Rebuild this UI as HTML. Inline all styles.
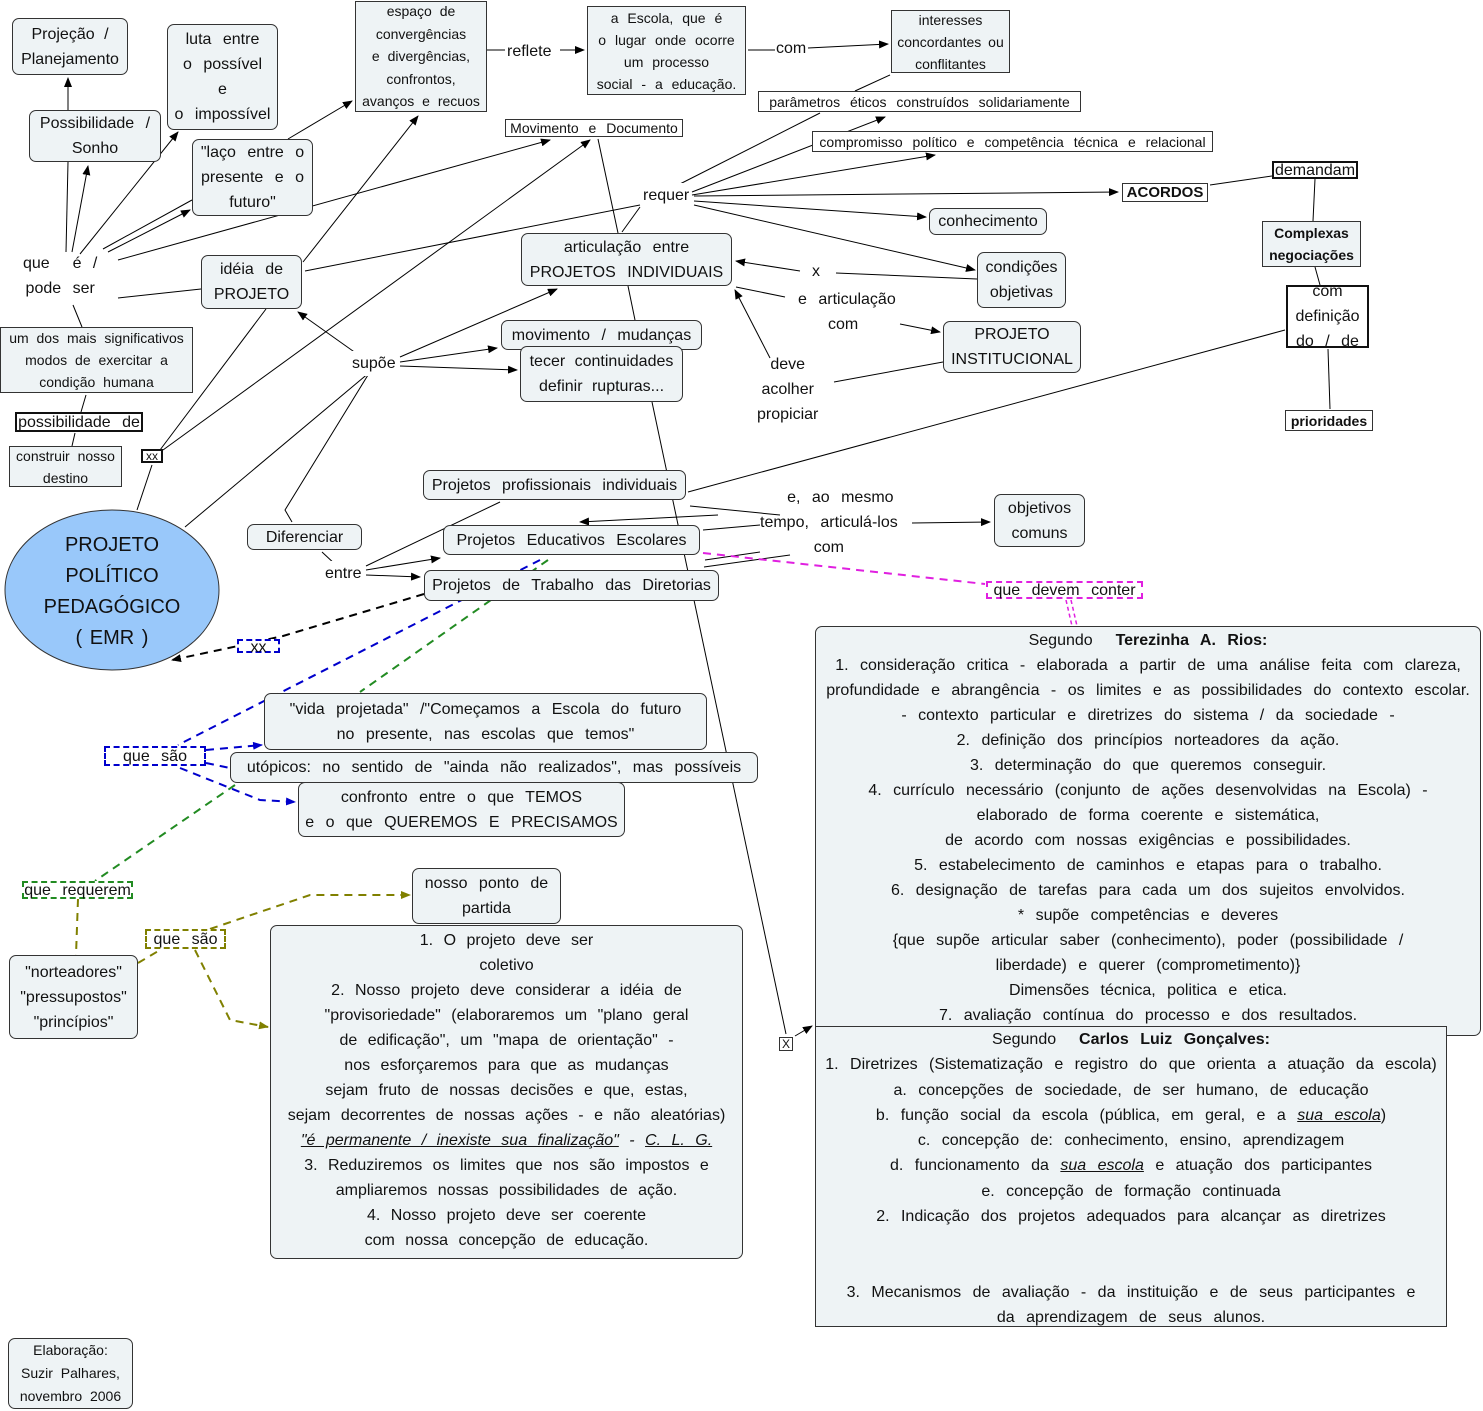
<!DOCTYPE html>
<html><head><meta charset="utf-8"><style>
body{margin:0;width:1483px;height:1411px;position:relative;background:#fff;font-family:"Liberation Sans",sans-serif;color:#111;overflow:hidden}
.b{position:absolute;box-sizing:border-box;border:1px solid #333;background:#eef3f5;border-radius:7px;display:flex;align-items:center;justify-content:center;text-align:center;font-size:16px;line-height:25px;word-spacing:7px;white-space:nowrap}
.blk{display:block}
.s{border-radius:0}
.sm{font-size:14px;line-height:22px;word-spacing:6px}
.t{position:absolute;font-size:16px;line-height:25px;word-spacing:7px;white-space:nowrap;text-align:center}
.w{background:#fff}
.k{border:2px solid #111}
svg{position:absolute;left:0;top:0}
</style></head><body>
<svg width="1483" height="1411">
<defs>
<marker id="a" markerWidth="10" markerHeight="8" refX="9" refY="4" orient="auto" markerUnits="userSpaceOnUse"><path d="M0,0L10,4L0,8z" fill="#000"/></marker>
<marker id="ab" markerWidth="10" markerHeight="8" refX="9" refY="4" orient="auto" markerUnits="userSpaceOnUse"><path d="M0,0L10,4L0,8z" fill="#00c"/></marker>
<marker id="ao" markerWidth="10" markerHeight="8" refX="9" refY="4" orient="auto" markerUnits="userSpaceOnUse"><path d="M0,0L10,4L0,8z" fill="#808000"/></marker>
</defs>
<g stroke="#000" stroke-width="1" fill="none">
<path d="M68,110L68,78" marker-end="url(#a)"/>
<path d="M66,252L68,162"/>
<path d="M72,252L88,166" marker-end="url(#a)"/>
<path d="M80,254L178,132" marker-end="url(#a)"/>
<path d="M103,249L192,200"/>
<path d="M108,252L190,210" marker-end="url(#a)"/>
<path d="M118,260L550,140" marker-end="url(#a)"/>
<path d="M288,139L352,101" marker-end="url(#a)"/>
<path d="M118,298L201,289"/>
<path d="M73,305L82,327"/>
<path d="M86,395L81,412"/><path d="M75,433L72,446"/>
<path d="M303,262L418,116" marker-end="url(#a)"/>
<path d="M305,271L640,205"/>
<path d="M266,309L160,450"/>
<path d="M163,450L590,140" marker-end="url(#a)"/>
<path d="M137,510L152,465"/>
<path d="M185,527L370,372"/>
<path d="M360,356L298,312" marker-end="url(#a)"/>
<path d="M400,357L557,289" marker-end="url(#a)"/>
<path d="M400,362L497,348" marker-end="url(#a)"/>
<path d="M400,366L517,370" marker-end="url(#a)"/>
<path d="M368,375L285,510L292,522"/>
<path d="M322,552L337,566"/>
<path d="M366,566L500,502"/>
<path d="M366,570L440,558" marker-end="url(#a)"/>
<path d="M366,575L420,577" marker-end="url(#a)"/>
<path d="M487,50L505,50"/><path d="M560,50L584,50" marker-end="url(#a)"/>
<path d="M748,50L775,50"/><path d="M808,48L888,44" marker-end="url(#a)"/>
<path d="M890,75L855,91"/>
<path d="M672,188L820,113"/>
<path d="M692,192L885,117" marker-end="url(#a)"/>
<path d="M692,195L935,155" marker-end="url(#a)"/>
<path d="M694,196L1118,192" marker-end="url(#a)"/>
<path d="M1210,185L1272,176"/>
<path d="M1315,179L1313,221"/>
<path d="M1315,267L1320,285"/>
<path d="M1328,349L1330,409"/>
<path d="M694,201L926,217" marker-end="url(#a)"/>
<path d="M694,205L975,270" marker-end="url(#a)"/>
<path d="M598,139L618,233"/>
<path d="M622,232L640,207"/>
<path d="M800,271L736,261" marker-end="url(#a)"/>
<path d="M836,273L977,279"/>
<path d="M736,287L785,297"/>
<path d="M900,324L940,332" marker-end="url(#a)"/>
<path d="M770,358L735,290" marker-end="url(#a)"/>
<path d="M834,382L943,362"/>
<path d="M628,286L635,320"/>
<path d="M652,402L786,1034"/>
<path d="M795,1036L812,1026" marker-end="url(#a)"/>
<path d="M688,492L1285,330"/>
<path d="M690,506L780,515"/>
<path d="M718,515L580,522" marker-end="url(#a)"/>
<path d="M703,530L760,525"/>
<path d="M912,523L990,522" marker-end="url(#a)"/>
<path d="M760,552L705,560"/>
<path d="M790,555L704,567"/>
</g>
<g fill="none" stroke-width="2" stroke-dasharray="8,6">
<path d="M424,594L283,636L238,646L172,660" stroke="#000" marker-end="url(#a)"/>
<path d="M540,560L178,745" stroke="#00c"/>
<path d="M206,750L262,745" stroke="#00c" marker-end="url(#ab)"/>
<path d="M206,763L230,768" stroke="#00c"/>
<path d="M180,768L260,800L295,802" stroke="#00c" marker-end="url(#ab)"/>
<path d="M548,560L360,692" stroke="#228b22"/>
<path d="M235,785L95,881" stroke="#228b22"/>
<path d="M78,899L76,955" stroke="#808000"/>
<path d="M138,963L160,950" stroke="#808000"/>
<path d="M210,929L310,895L410,895" stroke="#808000" marker-end="url(#ao)"/>
<path d="M195,950L230,1020L268,1027" stroke="#808000" marker-end="url(#ao)"/>
<path d="M703,553L985,584" stroke="#e020e0"/>
<path d="M1066,600L1072,626M1071,600L1077,626" stroke="#e020e0" stroke-width="1.5" stroke-dasharray="4,3"/>
</g>
<ellipse cx="112" cy="590" rx="107" ry="80" fill="#99c8fa" stroke="#333"/>
</svg>

<div class="b" style="left:12px;top:18px;width:116px;height:57px;word-spacing:5px">Projeção /<br>Planejamento</div>
<div class="b" style="left:167px;top:24px;width:111px;height:106px">luta entre<br>o possível<br>e<br>o impossível</div>
<div class="b s sm" style="left:355px;top:1px;width:132px;height:111px;line-height:22.5px;word-spacing:4px">espaço de<br>convergências<br>e divergências,<br>confrontos,<br>avanços e recuos</div>
<div class="t w" style="left:507px;top:39px">reflete</div>
<div class="b s sm" style="left:587px;top:6px;width:159px;height:89px;word-spacing:5px">a Escola, que é<br>o lugar onde ocorre<br>um processo<br>social - a educação.</div>
<div class="t w" style="left:776px;top:36px">com</div>
<div class="b s sm" style="left:891px;top:10px;width:119px;height:63px;word-spacing:3px">interesses<br>concordantes ou<br>conflitantes</div>
<div class="b s sm w" style="left:758px;top:91px;width:323px;height:21px">parâmetros éticos construídos solidariamente</div>
<div class="b s sm w" style="left:505px;top:119px;width:178px;height:18px">Movimento e Documento</div>
<div class="b s sm w" style="left:812px;top:131px;width:401px;height:21px">compromisso político e competência técnica e relacional</div>
<div class="b" style="left:29px;top:110px;width:132px;height:52px">Possibilidade /<br>Sonho</div>
<div class="b" style="left:192px;top:139px;width:121px;height:77px">"laço entre o<br>presente e o<br>futuro"</div>
<div class="t w" style="left:643px;top:183px">requer</div>
<div class="b s w" style="left:1122px;top:183px;width:86px;height:19px;font-weight:bold;font-size:15px">ACORDOS</div>
<div class="b s k w" style="left:1272px;top:161px;width:86px;height:18px;border-radius:0">demandam</div>
<div class="b s sm" style="left:1262px;top:221px;width:99px;height:46px;font-weight:bold;word-spacing:2px">Complexas<br>negociações</div>
<div class="b" style="left:929px;top:208px;width:118px;height:27px">conhecimento</div>
<div class="b" style="left:521px;top:233px;width:211px;height:53px">articulação entre<br>PROJETOS INDIVIDUAIS</div>
<div class="b" style="left:977px;top:252px;width:89px;height:56px">condições<br>objetivas</div>
<div class="b k w" style="left:1286px;top:285px;width:83px;height:63px;border-radius:0;line-height:25px">com<br>definição<br>do / de</div>
<div class="t" style="left:812px;top:259px">x</div>
<div class="t" style="left:798px;top:287px">e articulação</div>
<div class="t" style="left:828px;top:312px">com</div>
<div class="b" style="left:943px;top:321px;width:138px;height:52px">PROJETO<br>INSTITUCIONAL</div>
<div class="t" style="left:757px;top:352px">deve<br>acolher<br>propiciar</div>
<div class="b s sm w" style="left:1285px;top:410px;width:88px;height:21px;font-weight:bold">prioridades</div>
<div class="b" style="left:201px;top:255px;width:101px;height:54px">idéia de<br>PROJETO</div>
<div class="t" style="left:23px;top:251px">que&nbsp; é /<br>pode ser</div>
<div class="b s sm" style="left:0px;top:327px;width:193px;height:66px;word-spacing:4px">um dos mais significativos<br>modos de exercitar a<br>condição humana</div>
<div class="b s k w" style="left:15px;top:412px;width:128px;height:20px;border-radius:0">possibilidade de</div>
<div class="b s sm" style="left:9px;top:446px;width:113px;height:41px;word-spacing:4px">construir nosso<br>destino</div>
<div class="b s k w" style="left:141px;top:449px;width:22px;height:14px;line-height:12px;border-radius:0;font-size:12px">xx</div>
<div class="b" style="left:501px;top:320px;width:201px;height:30px">movimento / mudanças</div>
<div class="b" style="left:520px;top:346px;width:163px;height:56px;word-spacing:5px">tecer continuidades<br>definir rupturas...</div>
<div class="t w" style="left:352px;top:351px">supõe</div>
<div class="b" style="left:423px;top:470px;width:263px;height:30px">Projetos profissionais individuais</div>
<div class="t" style="left:760px;top:485px">&nbsp;&nbsp;e, ao mesmo<br>tempo, articulá-los<br>com</div>
<div class="b" style="left:994px;top:494px;width:91px;height:53px">objetivos<br>comuns</div>
<div class="b" style="left:247px;top:524px;width:115px;height:26px">Diferenciar</div>
<div class="b" style="left:443px;top:525px;width:257px;height:30px">Projetos Educativos Escolares</div>
<div class="t w" style="left:325px;top:561px">entre</div>
<div class="b" style="left:424px;top:570px;width:295px;height:31px">Projetos de Trabalho das Diretorias</div>
<div class="t" style="left:5px;top:530px;width:214px;font-size:20px;line-height:31px;word-spacing:2px">PROJETO<br>POLÍTICO<br>PEDAGÓGICO<br>( EMR )</div>
<div class="t w" style="left:237px;top:639px;width:43px;height:14px;line-height:14px;border:2px dashed #00c;box-sizing:border-box">xx</div>
<div class="t w" style="left:986px;top:581px;width:157px;height:18px;line-height:16px;border:2px dashed #e020e0;box-sizing:border-box">que devem conter</div>
<div class="b blk" style="left:815px;top:626px;width:666px;height:410px;padding-top:1px">Segundo <b>&nbsp;Terezinha A. Rios:</b><br>1. consideração critica - elaborada a partir de uma análise feita com clareza,<br>profundidade e abrangência - os limites e as possibilidades do contexto escolar.<br>- contexto particular e diretrizes do sistema / da sociedade -<br>2. definição dos princípios norteadores da ação.<br>3. determinação do que queremos conseguir.<br>4. currículo necessário (conjunto de ações desenvolvidas na Escola) -<br>elaborado de forma coerente e sistemática,<br>de acordo com nossas exigências e possibilidades.<br>5. estabelecimento de caminhos e etapas para o trabalho.<br>6. designação de tarefas para cada um dos sujeitos envolvidos.<br>* supõe competências e deveres<br>{que supõe articular saber (conhecimento), poder (possibilidade /<br>liberdade) e querer (comprometimento)}<br>Dimensões técnica, politica e etica.<br>7. avaliação contínua do processo e dos resultados.</div>
<div class="b s blk" style="left:815px;top:1026px;width:632px;height:301px;padding-top:0;line-height:25.3px">Segundo <b>&nbsp;Carlos Luiz Gonçalves:</b><br>1. Diretrizes (Sistematização e registro do que orienta a atuação da escola)<br>a. concepções de sociedade, de ser humano, de educação<br>b. função social da escola (pública, em geral, e a <i><u>sua escola</u></i>)<br>c. concepção de: conhecimento, ensino, aprendizagem<br>d. funcionamento da <i><u>sua escola</u></i> e atuação dos participantes<br>e. concepção de formação continuada<br>2. Indicação dos projetos adequados para alcançar as diretrizes<br><br><br>3. Mecanismos de avaliação - da instituição e de seus participantes e<br>da aprendizagem de seus alunos.</div>
<div class="b s w" style="left:779px;top:1037px;width:14px;height:14px;line-height:12px;border-radius:0;font-size:12px">X</div>
<div class="b" style="left:264px;top:693px;width:443px;height:57px">"vida projetada" /"Começamos a Escola do futuro<br>no presente, nas escolas que temos"</div>
<div class="t w" style="left:104px;top:746px;width:102px;height:20px;line-height:17px;border:2px dashed #00c;box-sizing:border-box">que são</div>
<div class="b" style="left:230px;top:752px;width:528px;height:31px">utópicos: no sentido de "ainda não realizados", mas possíveis</div>
<div class="b" style="left:298px;top:782px;width:327px;height:55px">confronto entre o que TEMOS<br>e o que QUEREMOS E PRECISAMOS</div>
<div class="t w" style="left:22px;top:881px;width:111px;height:18px;line-height:15px;border:2px dashed #228b22;box-sizing:border-box">que requerem</div>
<div class="b" style="left:412px;top:868px;width:149px;height:56px">nosso ponto de<br>partida</div>
<div class="t w" style="left:145px;top:929px;width:81px;height:20px;line-height:17px;border:2px dashed #808000;box-sizing:border-box">que são</div>
<div class="b" style="left:9px;top:955px;width:129px;height:84px">"norteadores"<br>"pressupostos"<br>"princípios"</div>
<div class="b blk" style="left:270px;top:925px;width:473px;height:334px;padding-top:2px;word-spacing:6px">1. O projeto deve ser<br>coletivo<br>2. Nosso projeto deve considerar a idéia de<br>"provisoriedade" (elaboraremos um "plano geral<br>de edificação", um "mapa de orientação" -<br>nos esforçaremos para que as mudanças<br>sejam fruto de nossas decisões e que, estas,<br>sejam decorrentes de nossas ações - e não aleatórias)<br><i><u>"é permanente / inexiste sua finalização"</u> - <u>C. L. G.</u></i><br>3. Reduziremos os limites que nos são impostos e<br>ampliaremos nossas possibilidades de ação.<br>4. Nosso projeto deve ser coerente<br>com nossa concepção de educação.</div>
<div class="b sm" style="left:8px;top:1338px;width:125px;height:71px;line-height:23px;word-spacing:4px">Elaboração:<br>Suzir Palhares,<br>novembro 2006</div>
</body></html>
